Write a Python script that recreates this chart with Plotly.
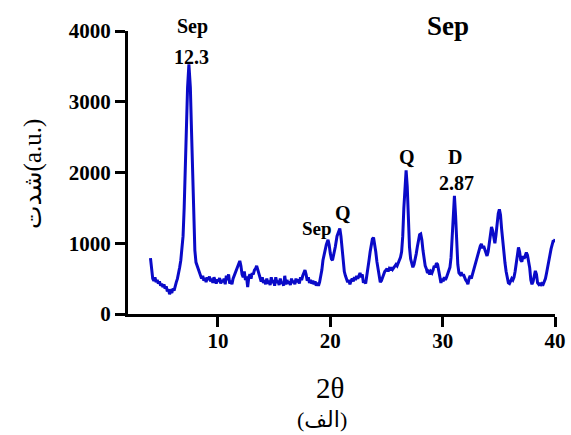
import plotly.graph_objects as go

two_theta = [
    4.00, 4.05, 4.12, 4.2, 4.3, 4.4, 4.5, 4.6, 4.7, 4.8, 4.9, 5.0, 5.1, 5.2, 5.3, 5.4, 5.5, 5.6, 5.7, 5.8, 5.9,
    6.0, 6.1, 6.2, 6.3, 6.4, 6.5, 6.6, 6.7, 6.8, 6.9, 7.0, 7.1, 7.2, 7.3, 7.42, 7.55, 7.65, 7.75, 7.85, 7.95,
    8.05, 8.15, 8.25, 8.35, 8.45, 8.55, 8.65, 8.75, 8.85, 8.95, 9.05, 9.15, 9.25, 9.35, 9.45, 9.55, 9.65, 9.75,
    9.85, 9.95, 10.05, 10.15, 10.25, 10.35, 10.45, 10.55, 10.65, 10.75, 10.85, 10.95, 11.05, 11.15, 11.25,
    11.35, 11.45, 11.55, 11.65, 11.75, 11.85, 11.95, 12.05, 12.15, 12.25, 12.35, 12.45, 12.55, 12.65, 12.75,
    12.85, 12.95, 13.05, 13.15, 13.25, 13.35, 13.45, 13.55, 13.65, 13.75, 13.85, 13.95, 14.05, 14.15, 14.25,
    14.35, 14.45, 14.55, 14.65, 14.75, 14.85, 14.95, 15.05, 15.15, 15.25, 15.35, 15.45, 15.55, 15.65, 15.75,
    15.85, 15.95, 16.05, 16.15, 16.25, 16.35, 16.45, 16.55, 16.65, 16.75, 16.85, 16.95, 17.05, 17.15, 17.25,
    17.35, 17.45, 17.55, 17.65, 17.75, 17.85, 17.95, 18.05, 18.15, 18.25, 18.35, 18.45, 18.55, 18.65, 18.75,
    18.85, 18.95, 19.05, 19.15, 19.25, 19.35, 19.45, 19.55, 19.65, 19.8, 19.9, 20.0, 20.1, 20.2, 20.3, 20.45,
    20.6, 20.75, 20.85, 20.95, 21.05, 21.15, 21.25, 21.35, 21.45, 21.55, 21.65, 21.75, 21.85, 21.95, 22.05,
    22.15, 22.25, 22.35, 22.45, 22.55, 22.65, 22.75, 22.85, 22.95, 23.05, 23.15, 23.25, 23.35, 23.45, 23.55,
    23.65, 23.75, 23.85, 23.95, 24.05, 24.15, 24.25, 24.35, 24.45, 24.55, 24.65, 24.75, 24.85, 24.95, 25.05,
    25.15, 25.25, 25.35, 25.45, 25.55, 25.65, 25.75, 25.85, 25.95, 26.05, 26.15, 26.25, 26.35, 26.45, 26.55,
    26.65, 26.75, 26.85, 26.95, 27.05, 27.15, 27.25, 27.35, 27.45, 27.55, 27.65, 27.75, 27.85, 27.95, 28.05,
    28.15, 28.25, 28.35, 28.45, 28.55, 28.65, 28.75, 28.85, 28.95, 29.05, 29.15, 29.25, 29.35, 29.45, 29.55,
    29.65, 29.75, 29.85, 29.95, 30.05, 30.15, 30.25, 30.35, 30.45, 30.55, 30.65, 30.75, 30.85, 30.95, 31.05,
    31.15, 31.25, 31.35, 31.45, 31.55, 31.65, 31.75, 31.85, 31.95, 32.05, 32.15, 32.25, 32.35, 32.45, 32.55,
    32.65, 32.75, 32.85, 32.95, 33.05, 33.15, 33.25, 33.35, 33.45, 33.55, 33.65, 33.75, 33.85, 33.95, 34.05,
    34.15, 34.25, 34.35, 34.45, 34.55, 34.65, 34.75, 34.85, 34.95, 35.05, 35.15, 35.25, 35.35, 35.45, 35.55,
    35.65, 35.75, 35.85, 35.95, 36.05, 36.15, 36.25, 36.35, 36.45, 36.55, 36.65, 36.75, 36.85, 36.95, 37.05,
    37.15, 37.25, 37.35, 37.45, 37.55, 37.65, 37.75, 37.85, 37.95, 38.05, 38.15, 38.25, 38.35, 38.45, 38.55,
    38.65, 38.75, 38.85, 38.95, 39.05, 39.15, 39.25, 39.35, 39.45, 39.55, 39.65, 39.75, 39.85, 39.95, 40.0,
]

intensity = [
    790, 700, 540, 500, 470, 520, 450, 480, 430, 460, 400, 430, 380, 420, 360, 390, 320, 350, 280, 320, 300,
    360, 330, 420, 450, 500, 560, 660, 760, 900, 1100, 1500, 2100, 2700, 3200, 3530, 3200, 2600, 1900, 1300, 900,
    730, 680, 640, 580, 560, 500, 540, 470, 510, 450, 520, 480, 530, 460, 500, 440, 520, 470,
    430, 490, 460, 510, 430, 480, 450, 500, 420, 540, 480, 560, 430, 470, 420,
    500, 540, 600, 640, 680, 720, 750, 680, 560, 520, 600, 480, 530, 380, 520,
    560, 500, 580, 560, 620, 640, 680, 620, 540, 500, 460, 520, 440, 480, 420,
    500, 430, 470, 410, 520, 440, 480, 400, 520, 440, 470, 410, 500, 430, 450,
    400, 540, 420, 480, 430, 460, 410, 500, 440, 470, 420, 500, 450, 490, 430,
    520, 480, 540, 580, 620, 560, 470, 520, 440, 480, 430, 470, 420, 460, 400,
    440, 400, 450, 520, 620, 760, 850, 920, 980, 1050, 980, 860, 780, 760, 820, 950,
    1100, 1190, 1210, 1100, 900, 720, 600, 540, 500, 450, 480, 420, 470, 500, 460,
    520, 480, 540, 500, 560, 580, 520, 560, 440, 470, 430, 520, 640, 760, 880,
    980, 1060, 1080, 1000, 880, 740, 620, 520, 450, 470, 520, 560, 600, 620, 640,
    600, 640, 620, 660, 630, 660, 680, 700, 680, 720, 760, 800, 880, 1100, 1500,
    1850, 2030, 1800, 1300, 950, 780, 700, 660, 700, 760, 850, 950, 1050, 1120, 1130,
    1050, 900, 760, 680, 640, 580, 600, 560, 600, 580, 620, 680, 660, 720, 700,
    600, 520, 440, 500, 460, 520, 480, 520, 560, 600, 660, 800, 1100, 1450, 1670,
    1400, 1000, 700, 580, 560, 590, 540, 560, 500, 480, 460, 420, 500, 540, 500,
    560, 580, 640, 720, 780, 840, 880, 960, 990, 930, 960, 900, 870, 820, 880,
    1000, 1150, 1230, 1180, 1050, 1000, 1120, 1280, 1420, 1480, 1400, 1200, 1000, 850, 720,
    600, 500, 440, 430, 470, 500, 480, 520, 600, 720, 860, 940, 880, 760, 740,
    820, 780, 840, 870, 830, 760, 650, 480, 420, 460, 540, 610, 560, 440, 420,
    440, 400, 430, 420, 450, 500, 580, 680, 760, 840, 920, 980, 1040, 1020, 1060,
]

x_ticks = [10, 20, 30, 40]
y_ticks = [0, 1000, 2000, 3000, 4000]

# plot area in page pixels
PL, PR, PT, PB = 128, 555, 31, 314
W, H = 571, 435


def px_to_paper(px, py):
    return (px - PL) / (PR - PL), (PB - py) / (PB - PT)


peak_labels = [
    ("Sep", 192.5, 26, 20),
    ("12.3", 191.5, 57, 20),
    ("Sep", 316.5, 228, 19),
    ("Q", 342.5, 213, 20),
    ("Q", 406.5, 157, 20),
    ("D", 454.5, 157, 20),
    ("2.87", 456.5, 183, 20),
]

serif = "Liberation Serif, Times New Roman, DejaVu Serif, DejaVu Sans"

fig = go.Figure()
fig.add_trace(go.Scatter(
    x=two_theta, y=intensity, mode="lines",
    line=dict(color="#0a0ac8", width=3),
    showlegend=False, hoverinfo="skip",
))

annotations = []
for text, px, py, fs in peak_labels:
    ax, ay = px_to_paper(px, py)
    annotations.append(dict(
        text=text, x=ax, y=ay, xref="paper", yref="paper", showarrow=False,
        font=dict(family=serif, size=fs, color="black", weight="bold"),
        xanchor="center", yanchor="middle",
    ))

tx, ty = px_to_paper(448, 26)
annotations.append(dict(
    text="Sep", x=tx, y=ty, xref="paper", yref="paper", showarrow=False,
    font=dict(family=serif, size=27, color="black", weight="bold"),
    xanchor="center", yanchor="middle",
))
tx, ty = px_to_paper(330, 388)
annotations.append(dict(
    text="2θ", x=tx, y=ty, xref="paper", yref="paper",
    showarrow=False, font=dict(family=serif, size=29, color="black"),
    xanchor="center", yanchor="middle",
))
tx, ty = px_to_paper(322, 419)
annotations.append(dict(
    text="(الف)", x=tx, y=ty, xref="paper", yref="paper",
    showarrow=False, font=dict(family=serif, size=22, color="black"),
    xanchor="center", yanchor="middle",
))
tx, ty = px_to_paper(33, 174)
annotations.append(dict(
    text="شدت(a.u.)", x=tx, y=ty, xref="paper", yref="paper",
    showarrow=False, textangle=-90, font=dict(family=serif, size=25, color="black"),
    xanchor="center", yanchor="middle",
))

axis_common = dict(
    showline=True, linewidth=3, linecolor="black", mirror=False,
    ticks="outside", ticklen=10, tickwidth=3, tickcolor="black",
    showgrid=False, zeroline=False, automargin=False,
    tickfont=dict(family=serif, size=21, color="black", weight="bold"),
)

fig.update_layout(
    template="none",
    width=W, height=H,
    margin=dict(l=PL, r=W - PR, t=PT, b=H - PB, pad=0),
    paper_bgcolor="white", plot_bgcolor="white",
    xaxis=dict(range=[2, 40], tickvals=x_ticks, ticklabelstandoff=-4, **axis_common),
    yaxis=dict(range=[0, 4000], tickvals=y_ticks, **axis_common),
    annotations=annotations,
)

fig.write_html(
    "out.html",
    config={"displayModeBar": False},
    post_script="document.body.style.margin='0';document.body.style.overflow='hidden';",
)
